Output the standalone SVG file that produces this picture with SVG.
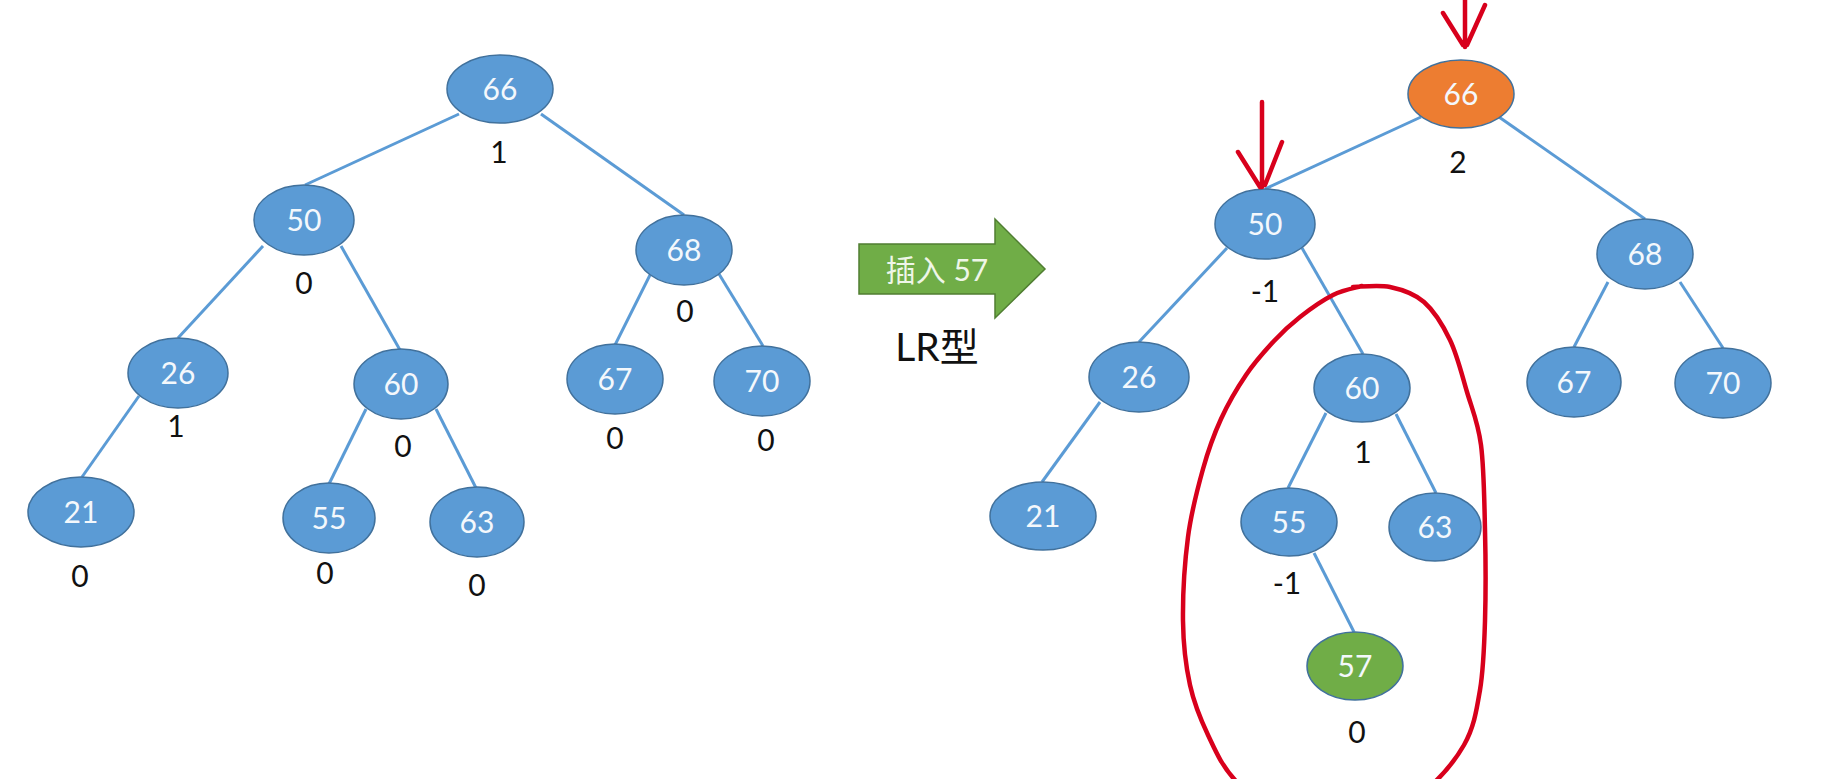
<svg xmlns="http://www.w3.org/2000/svg" width="1830" height="779" viewBox="0 0 1830 779">
  <style>
    .edge { stroke: #5b9bd5; stroke-width: 3; fill: none; }
    .nb { fill: #5b9bd5; stroke: #41719c; stroke-width: 1.5; }
    .no { fill: #ed7d31; stroke: #41719c; stroke-width: 1.5; }
    .ng { fill: #70ad47; stroke: #41719c; stroke-width: 1.5; }
    .nt { font-family: Lato, "Liberation Sans", sans-serif; font-size: 30px; fill: #f4f8fc; text-anchor: middle; }
    .bf { font-family: Lato, "Liberation Sans", sans-serif; font-size: 30px; fill: #111; text-anchor: middle; }
    .red { stroke: #d8001c; stroke-width: 4.5; fill: none; stroke-linecap: round; stroke-linejoin: round; }
  </style>
  <rect width="1830" height="779" fill="#ffffff"/>

  <g id="connectors">
    <line class="edge" x1="459" y1="114" x2="305" y2="185"/>
    <line class="edge" x1="541" y1="114" x2="684" y2="215"/>
    <line class="edge" x1="263" y1="246" x2="178" y2="338"/>
    <line class="edge" x1="341" y1="246" x2="400" y2="350"/>
    <line class="edge" x1="139" y1="396" x2="82" y2="477"/>
    <line class="edge" x1="366" y1="409" x2="329" y2="484"/>
    <line class="edge" x1="436" y1="409" x2="476" y2="488"/>
    <line class="edge" x1="650" y1="275" x2="615" y2="345"/>
    <line class="edge" x1="719" y1="274" x2="763" y2="346"/>
    <line class="edge" x1="1421" y1="117" x2="1265" y2="189"/>
    <line class="edge" x1="1499" y1="117" x2="1645" y2="219"/>
    <line class="edge" x1="1227" y1="248" x2="1139" y2="342"/>
    <line class="edge" x1="1302" y1="248" x2="1363" y2="354"/>
    <line class="edge" x1="1100" y1="402" x2="1042" y2="482"/>
    <line class="edge" x1="1326" y1="413" x2="1288" y2="488"/>
    <line class="edge" x1="1396" y1="414" x2="1436" y2="493"/>
    <line class="edge" x1="1314" y1="553" x2="1354" y2="632"/>
    <line class="edge" x1="1608" y1="282" x2="1574" y2="347"/>
    <line class="edge" x1="1680" y1="282" x2="1723" y2="348"/>
  </g>

  <g id="L66"><ellipse class="nb" cx="500" cy="89" rx="53" ry="34"/><text class="nt" x="500" y="100">66</text><text class="bf" x="499" y="163">1</text></g>
  <g id="L50"><ellipse class="nb" cx="304" cy="220" rx="50" ry="35"/><text class="nt" x="304" y="231">50</text><text class="bf" x="304" y="294">0</text></g>
  <g id="L68"><ellipse class="nb" cx="684" cy="250" rx="48" ry="35"/><text class="nt" x="684" y="261">68</text><text class="bf" x="685" y="322">0</text></g>
  <g id="L26"><ellipse class="nb" cx="178" cy="373" rx="50" ry="35"/><text class="nt" x="178" y="384">26</text><text class="bf" x="176" y="437">1</text></g>
  <g id="L60"><ellipse class="nb" cx="401" cy="384" rx="47" ry="35"/><text class="nt" x="401" y="395">60</text><text class="bf" x="403" y="457">0</text></g>
  <g id="L67"><ellipse class="nb" cx="615" cy="379" rx="48" ry="35"/><text class="nt" x="615" y="390">67</text><text class="bf" x="615" y="449">0</text></g>
  <g id="L70"><ellipse class="nb" cx="762" cy="381" rx="48" ry="35"/><text class="nt" x="762" y="392">70</text><text class="bf" x="766" y="451">0</text></g>
  <g id="L21"><ellipse class="nb" cx="81" cy="512" rx="53" ry="35"/><text class="nt" x="81" y="523">21</text><text class="bf" x="80" y="587">0</text></g>
  <g id="L55"><ellipse class="nb" cx="329" cy="518" rx="46" ry="35"/><text class="nt" x="329" y="529">55</text><text class="bf" x="325" y="584">0</text></g>
  <g id="L63"><ellipse class="nb" cx="477" cy="522" rx="47" ry="35"/><text class="nt" x="477" y="533">63</text><text class="bf" x="477" y="596">0</text></g>

  <g id="insert-arrow">
    <polygon points="859,244 995,244 995,219 1045,269 995,318 995,294 859,294" fill="#70ad47" stroke="#507e32" stroke-width="1.5"/>
    <text x="937" y="281" font-family="Lato, 'Noto Sans CJK SC', sans-serif" font-size="30" fill="#eef6e8" text-anchor="middle">插入 57</text>
    <text x="937" y="361" font-family="Lato, 'Noto Sans CJK SC', sans-serif" font-size="39" fill="#111" text-anchor="middle">LR型</text>
  </g>

  <g id="R66"><ellipse class="no" cx="1461" cy="94" rx="53" ry="34"/><text class="nt" x="1461" y="105">66</text><text class="bf" x="1458" y="173">2</text></g>
  <g id="R50"><ellipse class="nb" cx="1265" cy="224" rx="50" ry="35"/><text class="nt" x="1265" y="235">50</text><text class="bf" x="1265" y="302">-1</text></g>
  <g id="R68"><ellipse class="nb" cx="1645" cy="254" rx="48" ry="35"/><text class="nt" x="1645" y="265">68</text></g>
  <g id="R26"><ellipse class="nb" cx="1139" cy="377" rx="50" ry="35"/><text class="nt" x="1139" y="388">26</text></g>
  <g id="R60"><ellipse class="nb" cx="1362" cy="388" rx="48" ry="34"/><text class="nt" x="1362" y="399">60</text><text class="bf" x="1363" y="463">1</text></g>
  <g id="R67"><ellipse class="nb" cx="1574" cy="382" rx="47" ry="35"/><text class="nt" x="1574" y="393">67</text></g>
  <g id="R70"><ellipse class="nb" cx="1723" cy="383" rx="48" ry="35"/><text class="nt" x="1723" y="394">70</text></g>
  <g id="R21"><ellipse class="nb" cx="1043" cy="516" rx="53" ry="34"/><text class="nt" x="1043" y="527">21</text></g>
  <g id="R55"><ellipse class="nb" cx="1289" cy="522" rx="48" ry="34"/><text class="nt" x="1289" y="533">55</text><text class="bf" x="1287" y="594">-1</text></g>
  <g id="R63"><ellipse class="nb" cx="1435" cy="527" rx="46" ry="34"/><text class="nt" x="1435" y="538">63</text></g>
  <g id="R57"><ellipse class="ng" cx="1355" cy="666" rx="48" ry="34"/><text class="nt" x="1355" y="677">57</text><text class="bf" x="1357" y="743">0</text></g>

  <g id="annotations">
    <path class="red" d="M1465,0 L1465,47 M1443,13 L1463,45 M1485,5 L1467,45"/>
    <path class="red" d="M1262,102 L1262,187 M1238,152 L1260,187 M1282,142 L1265,185"/>
    <path class="red" d="M1353,287 C1359.2,287 1378.2,284.5 1390,287 C1401.8,289.5 1414,293.2 1424,302 C1434,310.8 1442.8,325 1450,340 C1457.2,355 1461.8,374.5 1467,392 C1472.2,409.5 1478,422 1481,445 C1484,468 1484.3,500.7 1485,530 C1485.7,559.3 1485.8,594.3 1485,621 C1484.2,647.7 1483.5,669.3 1480,690 C1476.5,710.7 1474,727.5 1464,745 C1454,762.5 1437.3,781.2 1420,795 C1402.7,808.8 1381.7,823 1360,828 C1338.3,833 1310.8,833 1290,825 C1277.5,817 1248.7,795 1235,780 C1221.3,765 1215.5,750.8 1208,735 C1200.5,719.2 1194.2,704 1190,685 C1185.8,666 1183.3,645.7 1183,621 C1182.7,596.3 1184.7,562.3 1188,537 C1191.3,511.7 1197.5,488.7 1203,469 C1208.5,449.3 1213.8,434.7 1221,419 C1228.2,403.3 1237.2,388 1246,375 C1254.8,362 1265,350.7 1274,341 C1283,331.3 1290.2,324.7 1300,317 C1309.8,309.3 1322.7,300.2 1333,295 C1343.3,289.8 1357.2,287.5 1362,286"/>
  </g>
</svg>
